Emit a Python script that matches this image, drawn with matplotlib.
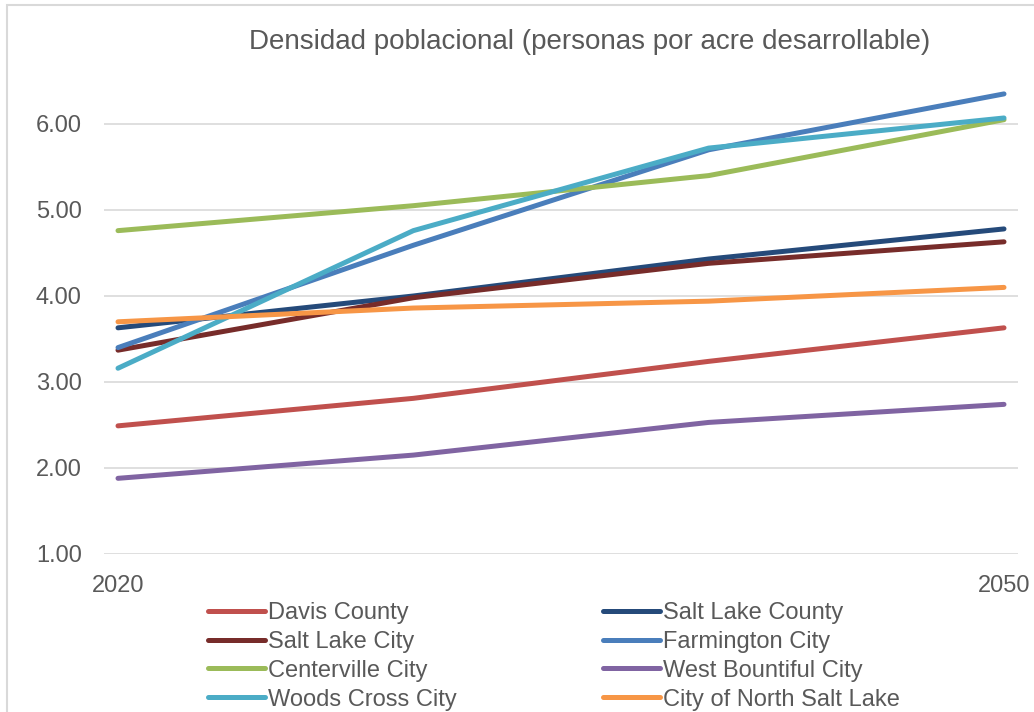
import matplotlib
matplotlib.use("Agg")
import matplotlib.pyplot as plt
from matplotlib.patches import Rectangle

plt.rcParams['font.family'] = ['Liberation Sans', 'DejaVu Sans']

years = [2020, 2030, 2040, 2050]
tick_years = [2020, 2050]
tick_labels = ["2020", "2050"]

series_names = ["Davis County", "Salt Lake County", "Salt Lake City", "Farmington City",
                "Centerville City", "West Bountiful City", "Woods Cross City",
                "City of North Salt Lake"]
davis = [2.49, 2.81, 3.24, 3.63]
sl_county = [3.63, 4.00, 4.43, 4.78]
sl_city = [3.37, 3.98, 4.38, 4.63]
farmington = [3.40, 4.59, 5.70, 6.35]
centerville = [4.76, 5.05, 5.40, 6.05]
west_bountiful = [1.88, 2.15, 2.53, 2.74]
woods_cross = [3.16, 4.76, 5.72, 6.07]
north_salt_lake = [3.70, 3.86, 3.94, 4.10]
values = [davis, sl_county, sl_city, farmington, centerville, west_bountiful,
          woods_cross, north_salt_lake]
colors = ["#c0504d", "#254a7a", "#772c2a", "#4a7ebb", "#9bbb59", "#8064a2",
          "#4bacc6", "#f79646"]

title = "Densidad poblacional (personas por acre desarrollable)"

fig = plt.figure(figsize=(10.34, 7.12), dpi=100)
ax = fig.add_axes([104/1034, 1-554/712, (1018-104)/1034, (554-81)/712])

lines = []
for name, vals, c in zip(series_names, values, colors):
    ln, = ax.plot(years, vals, color=c, lw=3.6, solid_capstyle='round', label=name)
    lines.append(ln)

ax.set_xlim(2020 - 14/29.53, 2050 + 14/29.53)
ax.set_ylim(1.0, 6.5)
ax.set_yticks([1, 2, 3, 4, 5, 6])
ax.set_yticklabels([f"{v:.2f}" for v in [1, 2, 3, 4, 5, 6]])
ax.set_xticks(tick_years)
ax.set_xticklabels(tick_labels)
ax.tick_params(axis='both', length=0, labelsize=17, colors='#595959')
ax.tick_params(axis='y', pad=16)
ax.tick_params(axis='x', pad=15)
ax.grid(axis='y', color='#d9d9d9', lw=1.2)
ax.set_axisbelow(True)
for s in ax.spines.values():
    s.set_visible(False)

fig.text(590/1034, 1-42/712, title, ha='center', va='center', fontsize=20, color='#595959')

order = [0, 2, 4, 6, 1, 3, 5, 7]
leg = fig.legend([lines[i] for i in order], [series_names[i] for i in order],
                 ncol=2, loc='upper left', bbox_to_anchor=(208/1034, 1-602/712),
                 frameon=False, fontsize=17, handlelength=2.4, handletextpad=0.13,
                 columnspacing=6.2, labelspacing=0.29, borderpad=0, borderaxespad=0)
for t in leg.get_texts():
    t.set_color('#595959')

fig.patches.append(Rectangle((7/1034, -0.1), 1.2, 1-5/712 + 0.1, transform=fig.transFigure,
                             fill=False, edgecolor='#d9d9d9', lw=1.5))

fig.savefig("out.png", dpi=100)
